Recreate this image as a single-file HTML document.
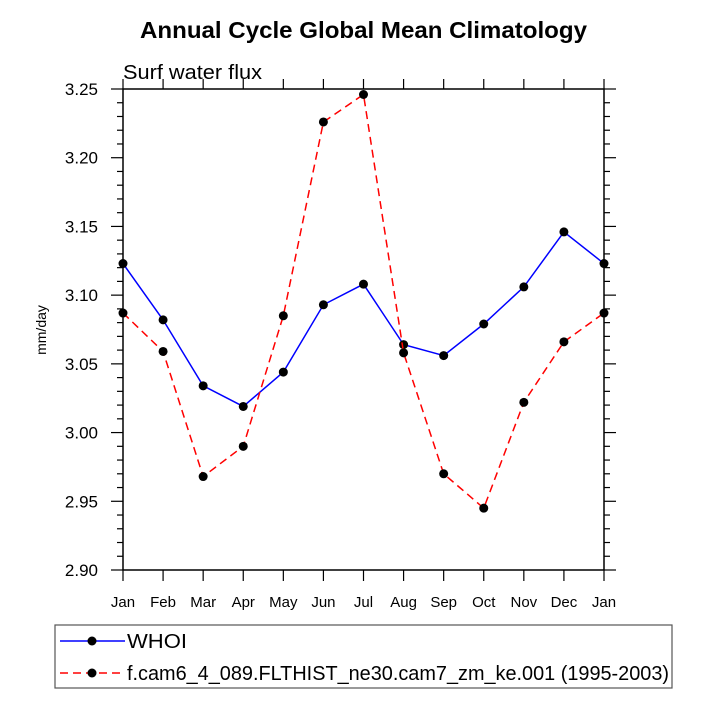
<!DOCTYPE html>
<html><head><meta charset="utf-8"><style>
body{margin:0;background:#fff;}
svg text{font-family:"Liberation Sans",Helvetica,sans-serif;}
</style></head><body>
<svg id="chart" width="708" height="708" xmlns="http://www.w3.org/2000/svg">
<text x="140" y="38" font-size="23" font-weight="bold" textLength="447" lengthAdjust="spacingAndGlyphs">Annual Cycle Global Mean Climatology</text>
<text x="123" y="79" font-size="20" textLength="139" lengthAdjust="spacingAndGlyphs">Surf water flux</text>
<text transform="translate(46,330) rotate(-90)" text-anchor="middle" font-size="14">mm/day</text>
<g id="axes"></g>
<g id="series"></g>
<g>
<rect x="55" y="625" width="617" height="63" fill="#fff" stroke="#555" stroke-width="1.2"/>
<g>
<line x1="60" y1="641" x2="125" y2="641" stroke="#0000ff" stroke-width="1.5"/>
<circle cx="92" cy="641" r="4.5" fill="#000"/>
<text x="127" y="648" font-size="20" textLength="60" lengthAdjust="spacingAndGlyphs">WHOI</text></g>
<g>
<line x1="60" y1="673" x2="125" y2="673" stroke="#ff0000" stroke-width="1.5" stroke-dasharray="8,5"/>
<circle cx="92" cy="673" r="4.5" fill="#000"/>
<text x="127" y="680" font-size="20" textLength="542" lengthAdjust="spacingAndGlyphs">f.cam6_4_089.FLTHIST_ne30.cam7_zm_ke.001 (1995-2003)</text></g>
</g>
</svg>
<script>
const months=["Jan","Feb","Mar","Apr","May","Jun","Jul","Aug","Sep","Oct","Nov","Dec","Jan"];
const whoi=[3.123,3.082,3.034,3.019,3.044,3.093,3.108,3.064,3.056,3.079,3.106,3.146,3.123];
const model=[3.087,3.059,2.968,2.990,3.085,3.226,3.246,3.058,2.970,2.945,3.022,3.066,3.087];
const yTicks=[2.90,2.95,3.00,3.05,3.10,3.15,3.20,3.25];
const yLabels=["2.90","2.95","3.00","3.05","3.10","3.15","3.20","3.25"];
const L=123,R=604,T=89,B=570,ymin=2.90,ymax=3.25;
const NS="http://www.w3.org/2000/svg";
function xs(i){return L+(R-L)*i/(months.length-1);}
function ys(v){return B-(v-ymin)/(ymax-ymin)*(B-T);}
function mk(tag,attrs,parent){const e=document.createElementNS(NS,tag);for(const k in attrs)e.setAttribute(k,attrs[k]);parent.appendChild(e);return e;}
const ax=document.getElementById('axes');
const frame=mk('rect',{x:L,y:T,width:R-L,height:B-T,fill:'none',stroke:'#000','stroke-width':1.5},ax);


for(let k=0;k<=35;k++){const v=ymin+k*0.01;const y=ys(v);const major=k%5===0;const len=major?12:6;
 mk('line',{x1:L,y1:y,x2:L-len,y2:y,stroke:'#000','stroke-width':1.2},ax);
 mk('line',{x1:R,y1:y,x2:R+len,y2:y,stroke:'#000','stroke-width':1.2},ax);}
yTicks.forEach((v,i)=>{const t=mk('text',{x:98,y:ys(v)+6,'text-anchor':'end','font-size':17},ax);t.textContent=yLabels[i];
 
 });
months.forEach((m,i)=>{const x=xs(i);
 mk('line',{x1:x,y1:B,x2:x,y2:B+11,stroke:'#000','stroke-width':1.2},ax);
 mk('line',{x1:x,y1:T,x2:x,y2:T-10,stroke:'#000','stroke-width':1.2},ax);
 const t=mk('text',{x:x,y:B+37,'text-anchor':'middle','font-size':15},ax);t.textContent=m;
 
 });
const sg=document.getElementById('series');
function draw(data,color,dash,name){
 const g=mk('g',{},sg);
 
 
 const pts=data.map((v,i)=>xs(i)+','+ys(v)).join(' ');
 const a={points:pts,fill:'none',stroke:color,'stroke-width':1.5};if(dash)a['stroke-dasharray']=dash;
 mk('polyline',a,g);
 data.forEach((v,i)=>{const c=mk('circle',{cx:xs(i),cy:ys(v),r:4.5,fill:'#000'},g);
  
  });
}
draw(whoi,'#0000ff',null,'series-whoi');
draw(model,'#ff0000','8,5','series-model');
</script>
</body></html>
